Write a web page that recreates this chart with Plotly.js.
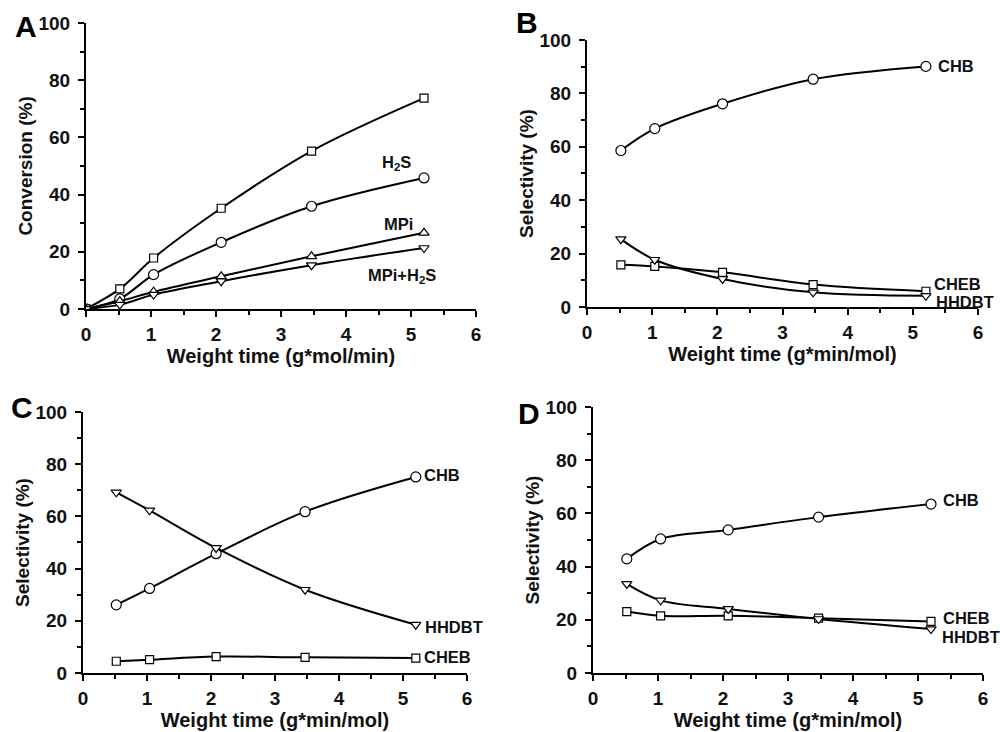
<!DOCTYPE html>
<html>
<head>
<meta charset="utf-8">
<script src="https://cdn.plot.ly/plotly-3.0.1.min.js"></script>
<style>html,body{margin:0;padding:0;background:#fff}#chart{width:1000px;height:732px}</style>
</head>
<body>
<div id="chart"></div>
<script>
// ---- Data ----
const weightTimeA = [0, 0.52, 1.04, 2.08, 3.47, 5.2];
const weightTime = [0.52, 1.04, 2.08, 3.47, 5.2];

// Panel A: conversion (%)
const convNone = [0, 7.0, 17.8, 35.2, 55.2, 73.7];
const convH2S = [0, 3.5, 12.0, 23.3, 35.9, 45.8];
const convMPi = [0, 2.7, 6.0, 11.4, 18.4, 26.6];
const convMPiH2S = [0, 1.5, 5.0, 9.7, 15.3, 21.3];

// Panel B: selectivity (%)
const selB_CHB = [58.6, 66.8, 76.1, 85.3, 90.1];
const selB_HHDBT = [25.4, 17.7, 10.5, 5.5, 4.2];
const selB_CHEB = [15.8, 15.2, 13.0, 8.4, 5.9];

// Panel C: selectivity (%)
const selC_CHB = [26.1, 32.4, 45.7, 61.8, 75.1];
const selC_HHDBT = [69.2, 62.3, 47.9, 31.9, 18.5];
const selC_CHEB = [4.5, 5.1, 6.3, 6.0, 5.7];

// Panel D: selectivity (%)
const selD_CHB = [42.9, 50.4, 53.8, 58.6, 63.5];
const selD_HHDBT = [33.5, 27.3, 24.1, 20.3, 16.5];
const selD_CHEB = [23.1, 21.5, 21.5, 20.6, 19.4];

const xTickVals = [0, 1, 2, 3, 4, 5, 6];
const yTickVals = [0, 20, 40, 60, 80, 100];

const titleA_x = 'Weight time (g*mol/min)';
const titleA_y = 'Conversion (%)';
const titleSel_x = 'Weight time (g*min/mol)';
const titleSel_y = 'Selectivity (%)';

// ---- Styles ----
const FONT = 'Liberation Sans, Arial, Helvetica, sans-serif';
const sym = {
  sq: {symbol: 'square', size: 8},
  ci: {symbol: 'circle', size: 10},
  up: {symbol: 'triangle-up', size: 9},
  dn: {symbol: 'triangle-down', size: 9}
};

function tr(x, y, m, xa, ya, name) {
  return {
    x: x, y: y, xaxis: xa, yaxis: ya, name: name,
    type: 'scatter', mode: 'lines+markers',
    line: {color: '#000', width: 2, shape: 'spline'},
    marker: {symbol: m.symbol, size: m.size, color: '#fff', line: {color: '#000', width: 1.2}},
    cliponaxis: true, showlegend: false
  };
}

const data = [
  tr(weightTimeA, convNone, sym.sq, 'x', 'y', 'none'),
  tr(weightTimeA, convH2S, sym.ci, 'x', 'y', 'H2S'),
  tr(weightTimeA, convMPi, sym.up, 'x', 'y', 'MPi'),
  tr(weightTimeA, convMPiH2S, sym.dn, 'x', 'y', 'MPi+H2S'),

  tr(weightTime, selB_CHEB, sym.sq, 'x2', 'y2', 'CHEB'),
  tr(weightTime, selB_CHB, sym.ci, 'x2', 'y2', 'CHB'),
  tr(weightTime, selB_HHDBT, sym.dn, 'x2', 'y2', 'HHDBT'),

  tr(weightTime, selC_CHEB, sym.sq, 'x3', 'y3', 'CHEB'),
  tr(weightTime, selC_CHB, sym.ci, 'x3', 'y3', 'CHB'),
  tr(weightTime, selC_HHDBT, sym.dn, 'x3', 'y3', 'HHDBT'),

  tr(weightTime, selD_CHEB, sym.sq, 'x4', 'y4', 'CHEB'),
  tr(weightTime, selD_CHB, sym.ci, 'x4', 'y4', 'CHB'),
  tr(weightTime, selD_HHDBT, sym.dn, 'x4', 'y4', 'HHDBT')
];

const tickFont = {family: FONT, size: 19, color: '#111', weight: 'bold'};

function xax(dom, anchor, title) {
  return {
    domain: dom, anchor: anchor, range: [0, 6], tickvals: xTickVals,
    showline: true, linecolor: '#000', linewidth: 2, mirror: false,
    showgrid: false, zeroline: false,
    ticks: 'outside', ticklen: 6, tickwidth: 2, tickcolor: '#000',
    minor: {dtick: 0.5, ticks: 'outside', ticklen: 4, tickwidth: 2, tickcolor: '#000', showgrid: false},
    tickfont: tickFont, ticklabelstandoff: 1,
    title: {text: title, font: {family: FONT, size: 20, color: '#111', weight: 'bold'}, standoff: 0}
  };
}
function yax(dom, anchor, title) {
  return {
    domain: dom, anchor: anchor, range: [0, 100], tickvals: yTickVals,
    showline: true, linecolor: '#000', linewidth: 2, mirror: false,
    showgrid: false, zeroline: false,
    ticks: 'outside', ticklen: 6, tickwidth: 2, tickcolor: '#000',
    minor: {dtick: 10, ticks: 'outside', ticklen: 4, tickwidth: 2, tickcolor: '#000', showgrid: false},
    tickfont: tickFont, ticklabelstandoff: 4,
    title: {text: title, font: {family: FONT, size: 19, color: '#111', weight: 'bold'}, standoff: 1}
  };
}

const labFont = {family: FONT, size: 16.5, color: '#111', weight: 'bold'};
function lab(text, x, y, xr, yr, xanchor) {
  return {text: text, x: x, y: y, xref: xr, yref: yr, showarrow: false,
    xanchor: xanchor || 'left', yanchor: 'middle', font: labFont, borderpad: 0};
}
const letFont = {family: FONT, size: 30, color: '#000', weight: 'bold'};
function letter(t, px, py) {
  return {text: t, x: px / 1000, y: 1 - py / 732, xref: 'paper', yref: 'paper',
    showarrow: false, xanchor: 'center', yanchor: 'middle', font: letFont};
}

const layout = {
  width: 1000, height: 732,
  margin: {l: 0, r: 0, t: 0, b: 0},
  paper_bgcolor: '#fff', plot_bgcolor: '#fff',
  showlegend: false,
  font: {family: FONT, color: '#111'},
  xaxis: xax([0.086, 0.476], 'y', titleA_x),
  yaxis: yax([0.578, 0.9686], 'x', titleA_y),
  xaxis2: xax([0.587, 0.978], 'y2', titleSel_x),
  yaxis2: yax([0.5806, 0.9454], 'x2', titleSel_y),
  xaxis3: xax([0.083, 0.467], 'y3', titleSel_x),
  yaxis3: yax([0.0806, 0.4372], 'x3', titleSel_y),
  xaxis4: xax([0.593, 0.983], 'y4', titleSel_x),
  yaxis4: yax([0.0806, 0.444], 'x4', titleSel_y),
  annotations: [
    lab('H<sub>2</sub>S', 4.78, 50.9, 'x', 'y', 'center'),
    lab('MPi', 4.8, 29.7, 'x', 'y', 'center'),
    lab('MPi+H<sub>2</sub>S', 4.86, 11.4, 'x', 'y', 'center'),

    lab('CHB', 5.37, 90.3, 'x2', 'y2'),
    lab('CHEB', 5.31, 8.6, 'x2', 'y2'),
    lab('HHDBT', 5.34, 1.8, 'x2', 'y2'),

    lab('CHB', 5.31, 75.9, 'x3', 'y3'),
    lab('HHDBT', 5.33, 17.6, 'x3', 'y3'),
    lab('CHEB', 5.31, 6.1, 'x3', 'y3'),

    lab('CHB', 5.37, 65.0, 'x4', 'y4'),
    lab('CHEB', 5.37, 20.6, 'x4', 'y4'),
    lab('HHDBT', 5.35, 13.6, 'x4', 'y4'),

    letter('A', 26, 27),
    letter('B', 527, 22),
    letter('C', 22, 408),
    letter('D', 529, 413)
  ]
};

Plotly.newPlot('chart', data, layout, {staticPlot: true, displayModeBar: false});
</script>
</body>
</html>
